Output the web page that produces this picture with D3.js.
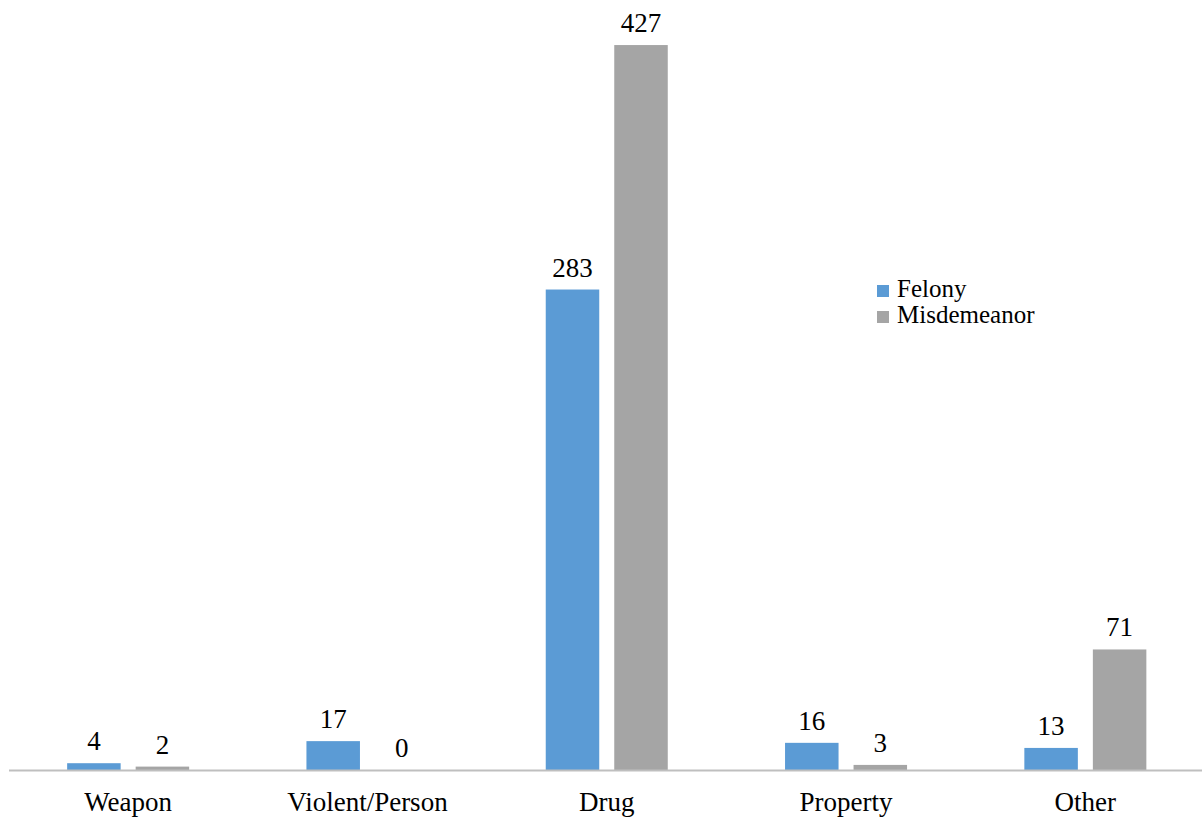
<!DOCTYPE html>
<html>
<head>
<meta charset="utf-8">
<script src="https://cdn.jsdelivr.net/npm/d3@7"></script>
</head>
<body style="margin:0">
<svg id="chart" width="1202" height="818" font-family="Liberation Serif"></svg>
<script>
// Offense categories and counts by charge level
const categories = ["Weapon", "Violent/Person", "Drug", "Property", "Other"];
const seriesNames = ["Felony", "Misdemeanor"];
const felony = [4, 17, 283, 16, 13];
const misdemeanor = [2, 0, 427, 3, 71];
const colors = ["#5b9bd5", "#a5a5a5"];

const FONT = "Liberation Serif";

const svg = d3.select("#chart");
const W = 1202, H = 818;
const margin = { left: 8.5, right: -3, top: 6, bottom: 48 };
const baseY = H - margin.bottom;

const x = d3.scaleBand()
  .domain(categories)
  .range([margin.left, W - margin.right])
  .paddingInner(0)
  .paddingOuter(0);

const inner = d3.scaleBand()
  .domain(seriesNames)
  .range([0, x.bandwidth()])
  .paddingInner(0.219)
  .paddingOuter(0.856);

const y = d3.scaleLinear()
  .domain([0, 450])
  .range([baseY, margin.top]);

const rows = categories.map((c, i) => ({ cat: c, values: [felony[i], misdemeanor[i]] }));

// Bars
svg.selectAll("rect.bar")
  .data(rows.flatMap(r => r.values.map((v, k) => ({ cat: r.cat, name: seriesNames[k], v, k }))))
  .join("rect")
  .attr("class", "bar")
  .attr("x", d => x(d.cat) + inner(d.name))
  .attr("width", inner.bandwidth())
  .attr("y", d => y(d.v))
  .attr("height", d => y(0) - y(d.v))
  .attr("fill", d => colors[d.k]);

// Value labels above each bar
svg.selectAll("text.val")
  .data(rows.flatMap(r => r.values.map((v, k) => ({ cat: r.cat, name: seriesNames[k], v, k }))))
  .join("text")
  .attr("class", "val")
  .attr("x", d => x(d.cat) + inner(d.name) + inner.bandwidth() / 2)
  .attr("y", d => y(d.v) - 13)
  .attr("text-anchor", "middle")
  .attr("font-family", FONT)
  .attr("font-size", 27)
  .text(d => d.v);

// Category axis along the baseline
const xAxis = svg.append("g")
  .attr("transform", `translate(0,${baseY})`)
  .call(d3.axisBottom(x).tickSize(0).tickPadding(22))
  .attr("font-family", FONT)
  .attr("font-size", 27);
xAxis.select(".domain").attr("stroke", "#bfbfbf").attr("stroke-width", 2);
xAxis.selectAll("text").attr("fill", "#000").attr("font-family", FONT);

// Legend
svg.selectAll("rect.key")
  .data(seriesNames)
  .join("rect")
  .attr("class", "key")
  .attr("x", 877)
  .attr("y", (d, i) => 285 + i * 26)
  .attr("width", 12)
  .attr("height", 12)
  .attr("fill", (d, i) => colors[i]);

svg.selectAll("text.key")
  .data(seriesNames)
  .join("text")
  .attr("class", "key")
  .attr("x", 897)
  .attr("y", (d, i) => 297 + i * 26)
  .attr("font-family", FONT)
  .attr("font-size", 25)
  .text(d => d);
</script>
</body>
</html>
